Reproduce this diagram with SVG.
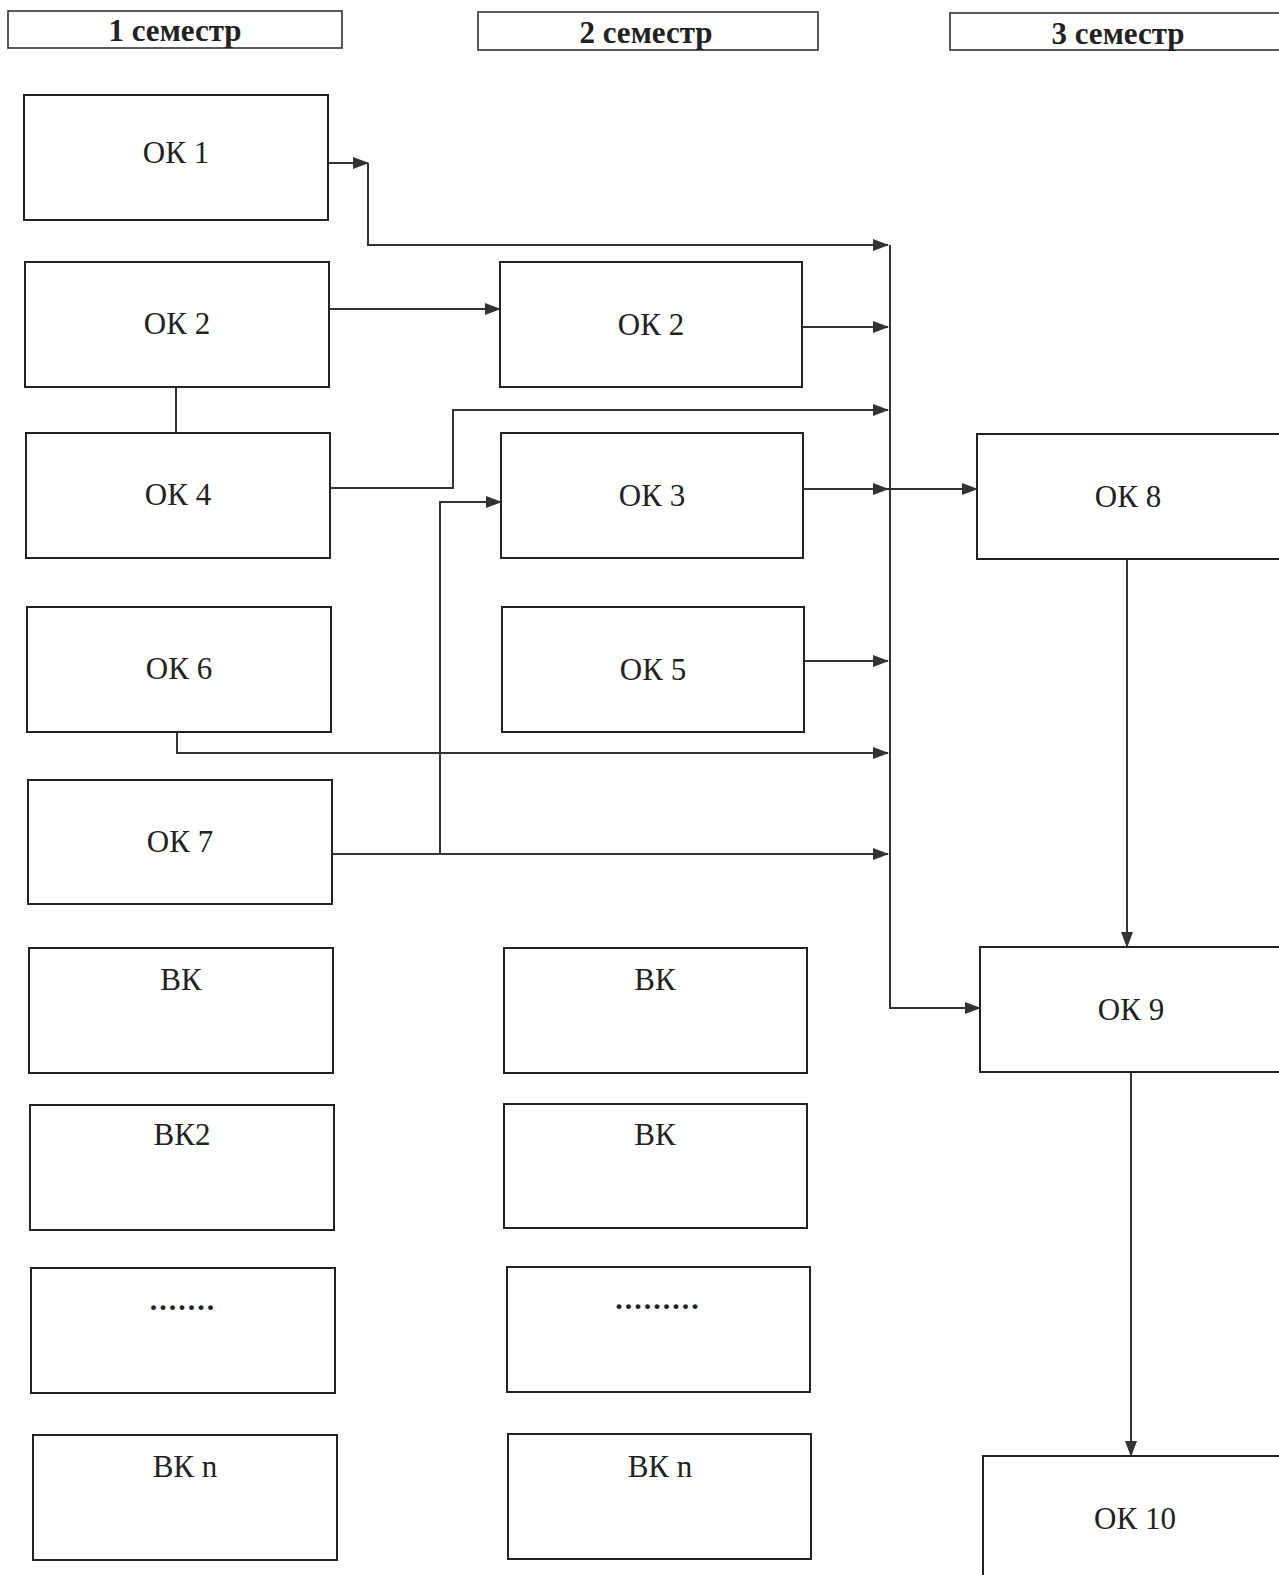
<svg xmlns="http://www.w3.org/2000/svg" width="1279" height="1575" viewBox="0 0 1279 1575">
<style>
.box{fill:#fff;stroke:#222;stroke-width:2}
.hdr{fill:#fff;stroke:#333;stroke-width:1.6}
.t{font-family:"Liberation Serif","Times New Roman",serif;font-size:31px;fill:#222;text-anchor:middle}
.h{font-family:"Liberation Serif","Times New Roman",serif;font-size:31px;font-weight:bold;fill:#222;text-anchor:middle}
.d{font-family:"Liberation Serif","Times New Roman",serif;font-size:30px;font-weight:bold;fill:#222;text-anchor:middle;letter-spacing:2px}
.c{fill:none;stroke:#333;stroke-width:2}
.ca{fill:none;stroke:#333;stroke-width:2;marker-end:url(#ah)}
</style>
<defs>
<marker id="ah" markerUnits="userSpaceOnUse" markerWidth="16" markerHeight="12" refX="15" refY="6" orient="auto">
<path d="M0,0 L16,6 L0,12 Z" fill="#333"/>
</marker>
</defs>
<rect width="1279" height="1575" fill="#fff"/>
<g id="headers">
<g id="h1"><rect class="hdr" x="8" y="11" width="334" height="37"/><text class="h" x="175" y="41">1 семестр</text></g>
<g id="h2"><rect class="hdr" x="478" y="12" width="340" height="38"/><text class="h" x="646" y="43">2 семестр</text></g>
<g id="h3"><rect class="hdr" x="950" y="13" width="335" height="37"/><text class="h" x="1118" y="44">3 семестр</text></g>
</g>
<g id="connectors">
<path class="ca" d="M323,163 H368"/>
<path class="ca" d="M368,163 V245 H888"/>
<path class="ca" d="M329,309 H500"/>
<path class="ca" d="M802,327 H888"/>
<path class="c" d="M176,387 V433"/>
<path class="ca" d="M330,488 H453 V410 H888"/>
<path class="ca" d="M803,489 H888"/>
<path class="ca" d="M888,489 H977"/>
<path class="ca" d="M440,854 V502 H501"/>
<path class="ca" d="M332,854 H888"/>
<path class="ca" d="M804,661 H888"/>
<path class="ca" d="M177,732 V753 H888"/>
<path class="ca" d="M890,245 V1008 H980"/>
<path class="ca" d="M1127,559 V947"/>
<path class="ca" d="M1131,1072 V1456"/>
</g>
<g id="ok1"><rect class="box" x="24" y="95" width="304" height="125"/><text class="t" x="176" y="163">ОК 1</text></g>
<g id="ok2a"><rect class="box" x="25" y="262" width="304" height="125"/><text class="t" x="177" y="334">ОК 2</text></g>
<g id="ok4"><rect class="box" x="26" y="433" width="304" height="125"/><text class="t" x="178" y="505">ОК 4</text></g>
<g id="ok6"><rect class="box" x="27" y="607" width="304" height="125"/><text class="t" x="179" y="679">ОК 6</text></g>
<g id="ok7"><rect class="box" x="28" y="780" width="304" height="124"/><text class="t" x="180" y="852">ОК 7</text></g>
<g id="vk1a"><rect class="box" x="29" y="948" width="304" height="125"/><text class="t" x="181" y="990">ВК</text></g>
<g id="vk2a"><rect class="box" x="30" y="1105" width="304" height="125"/><text class="t" x="182" y="1145">ВК2</text></g>
<g id="dotsa"><rect class="box" x="31" y="1268" width="304" height="125"/><text class="d" x="183" y="1310">.......</text></g>
<g id="vkna"><rect class="box" x="33" y="1435" width="304" height="125"/><text class="t" x="185" y="1477">ВК n</text></g>
<g id="ok2b"><rect class="box" x="500" y="262" width="302" height="125"/><text class="t" x="651" y="335">ОК 2</text></g>
<g id="ok3"><rect class="box" x="501" y="433" width="302" height="125"/><text class="t" x="652" y="506">ОК 3</text></g>
<g id="ok5"><rect class="box" x="502" y="607" width="302" height="125"/><text class="t" x="653" y="680">ОК 5</text></g>
<g id="vk1b"><rect class="box" x="504" y="948" width="303" height="125"/><text class="t" x="655" y="990">ВК</text></g>
<g id="vk2b"><rect class="box" x="504" y="1104" width="303" height="124"/><text class="t" x="655" y="1145">ВК</text></g>
<g id="dotsb"><rect class="box" x="507" y="1267" width="303" height="125"/><text class="d" x="658" y="1309">.........</text></g>
<g id="vknb"><rect class="box" x="508" y="1434" width="303" height="125"/><text class="t" x="660" y="1477">ВК n</text></g>
<g id="ok8"><rect class="box" x="977" y="434" width="310" height="125"/><text class="t" x="1128" y="507">ОК 8</text></g>
<g id="ok9"><rect class="box" x="980" y="947" width="310" height="125"/><text class="t" x="1131" y="1020">ОК 9</text></g>
<g id="ok10"><rect class="box" x="983" y="1456" width="310" height="130"/><text class="t" x="1135" y="1529">ОК 10</text></g>
</svg>
